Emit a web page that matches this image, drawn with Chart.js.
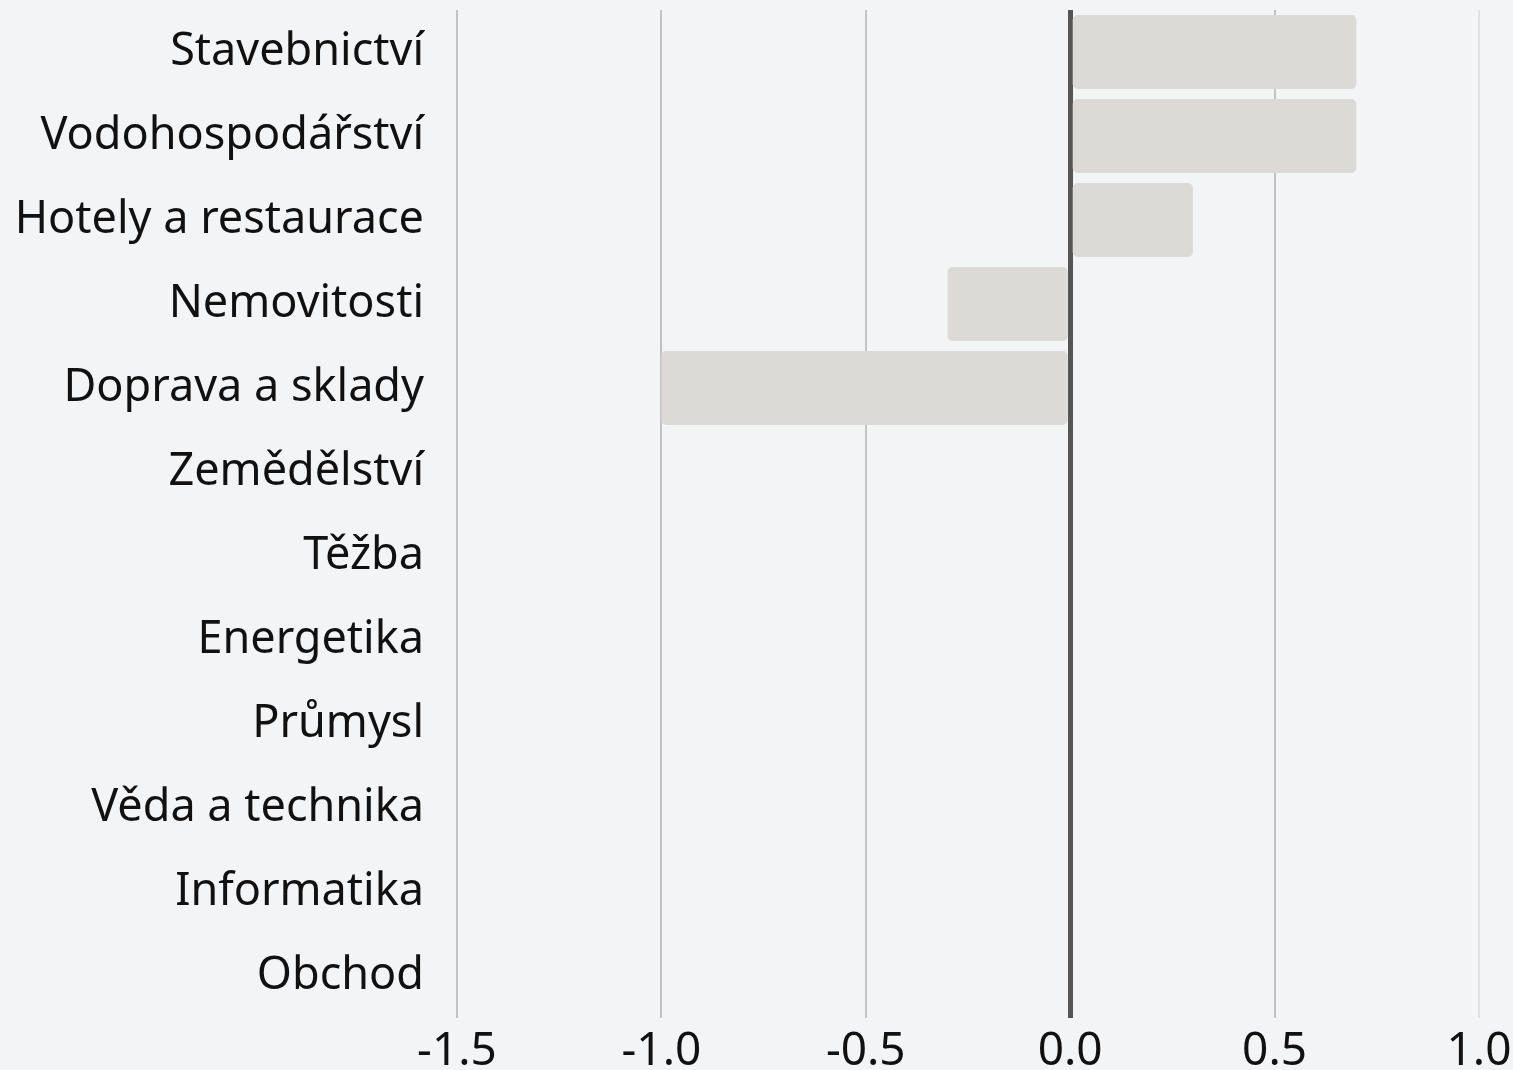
<!DOCTYPE html>
<html>
<head>
<meta charset="utf-8">
<script src="https://cdn.jsdelivr.net/npm/chart.js@4/dist/chart.umd.min.js"></script>
<style>
  html, body { margin: 0; padding: 0; background: #f3f4f6; }
  #wrap { width: 1513px; height: 1070px; position: relative; }
</style>
</head>
<body>
<div id="wrap"><canvas id="c" width="1513" height="1070"></canvas></div>
<script>
const categories = ["Stavebnictví", "Vodohospodářství", "Hotely a restaurace", "Nemovitosti", "Doprava a sklady", "Zemědělství", "Těžba", "Energetika", "Průmysl", "Věda a technika", "Informatika", "Obchod"];
const values = [0.7, 0.7, 0.3, -0.3, -1.0, 0, 0, 0, 0, 0, 0, 0];
const xTicks = [-1.5, -1.0, -0.5, 0.0, 0.5, 1.0];

const FONT = "'Noto Sans', sans-serif";

new Chart(document.getElementById('c'), {
  type: 'bar',
  data: {
    labels: categories,
    datasets: [{
      data: values,
      backgroundColor: '#dbdad6',
      borderWidth: 0,
      borderRadius: 5,
      borderSkipped: false,
      barPercentage: 0.88,
      categoryPercentage: 1.0
    }]
  },
  options: {
    indexAxis: 'y',
    responsive: false,
    animation: false,
    layout: { padding: { top: 10, right: 34, left: 0, bottom: 0 } },
    plugins: { legend: { display: false }, tooltip: { enabled: false } },
    scales: {
      x: {
        min: xTicks[0],
        max: xTicks[xTicks.length - 1],
        afterBuildTicks: (s) => { s.ticks = xTicks.map(v => ({ value: v })); },
        afterFit: (s) => { s.height = 52; s.paddingLeft = 0; s.paddingRight = 0; },
        border: { display: false },
        grid: {
          drawTicks: false,
          color: (ctx) => ctx.tick && ctx.tick.value === 0 ? '#555555' : (ctx.tick && ctx.tick.value === 1 ? '#e2e2e2' : '#c2c2c2'),
          lineWidth: (ctx) => ctx.tick && ctx.tick.value === 0 ? 5 : 2
        },
        ticks: {
          padding: 6,
          color: '#111',
          font: { family: FONT, size: 46 },
          maxRotation: 0,
          callback: (v) => Number(v).toFixed(1)
        }
      },
      y: {
        afterFit: (s) => { s.width = 457; s.paddingTop = 0; s.paddingBottom = 0; },
        border: { display: false },
        grid: { display: false, drawTicks: false },
        ticks: {
          padding: 33,
          color: '#111',
          font: { family: FONT, size: 45 }
        }
      }
    }
  }
});
</script>
</body>
</html>
